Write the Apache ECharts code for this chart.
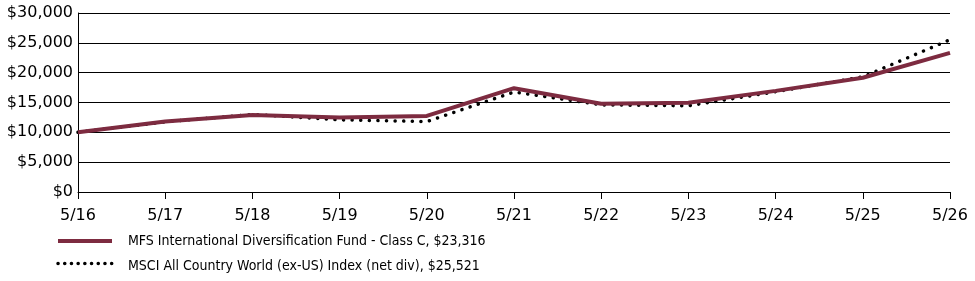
<!DOCTYPE html>
<html>
<head>
<meta charset="utf-8">
<script src="https://cdn.jsdelivr.net/npm/echarts@6/dist/echarts.min.js"></script>
<style>
  html, body { margin: 0; padding: 0; background: #fff; }
  #chart { width: 975px; height: 281px; }
</style>
</head>
<body>
<div id="chart"></div>
<script>
// values
const years = ['5/16', '5/17', '5/18', '5/19', '5/20', '5/21', '5/22', '5/23', '5/24', '5/25', '5/26'];
const fundName = 'MFS International Diversification Fund - Class C, $23,316';
const indexName = 'MSCI All Country World (ex-US) Index (net div), $25,521';
const fundValues = [10000, 11800, 12900, 12500, 12750, 17400, 14800, 14950, 16950, 19150, 23316];
const indexValues = [10000, 11750, 13000, 12100, 11800, 16750, 14600, 14450, 16800, 19300, 25521];

const axisFont = '"DejaVu Sans", Verdana, sans-serif';
const legendFont = '"DejaVu Sans Condensed", "DejaVu Sans", sans-serif';
const fundColor = '#7d2b40';

const chart = echarts.init(document.getElementById('chart'));

// legend drawn by hand so the line samples look like the series (no symbol)
const legendRows = [
  { name: fundName, y: 241, textTop: 234, style: { stroke: fundColor, lineWidth: 4 } },
  { name: indexName, y: 263.5, textTop: 259, style: { stroke: '#000', lineWidth: 3.5, lineDash: [0.1, 6.6], lineCap: 'round' } }
];
const legendGraphics = [];
legendRows.forEach(r => {
  legendGraphics.push({
    type: 'line',
    shape: { x1: 58, y1: r.y, x2: 112, y2: r.y },
    style: r.style
  });
  legendGraphics.push({
    type: 'text',
    left: 128,
    top: r.textTop,
    style: { text: r.name, fill: '#000', font: '14px ' + legendFont }
  });
});

chart.setOption({
  animation: false,
  grid: { left: 78, right: 25, top: 13, bottom: 89 },
  xAxis: {
    type: 'category',
    data: years,
    boundaryGap: false,
    axisLine: { lineStyle: { color: '#000', width: 1 } },
    axisTick: { length: 7, lineStyle: { color: '#000' } },
    axisLabel: { color: '#000', fontSize: 16, fontFamily: axisFont, margin: 16 }
  },
  yAxis: {
    type: 'value',
    min: 0,
    max: 30000,
    interval: 5000,
    axisLine: { show: true, lineStyle: { color: '#000', width: 1 } },
    axisTick: { show: false },
    splitLine: { lineStyle: { color: '#000', width: 1 } },
    axisLabel: {
      color: '#000', fontSize: 16, fontFamily: axisFont, margin: 5,
      formatter: v => '$' + v.toLocaleString('en-US')
    }
  },
  graphic: legendGraphics,
  series: [
    {
      name: fundName,
      type: 'line',
      data: fundValues,
      symbol: 'none',
      lineStyle: { color: fundColor, width: 4 },
      z: 3
    },
    {
      name: indexName,
      type: 'line',
      data: indexValues,
      symbol: 'none',
      lineStyle: { color: '#000', width: 3.5, type: [0.1, 8.5], cap: 'round' },
      z: 2
    }
  ]
});
</script>
</body>
</html>
